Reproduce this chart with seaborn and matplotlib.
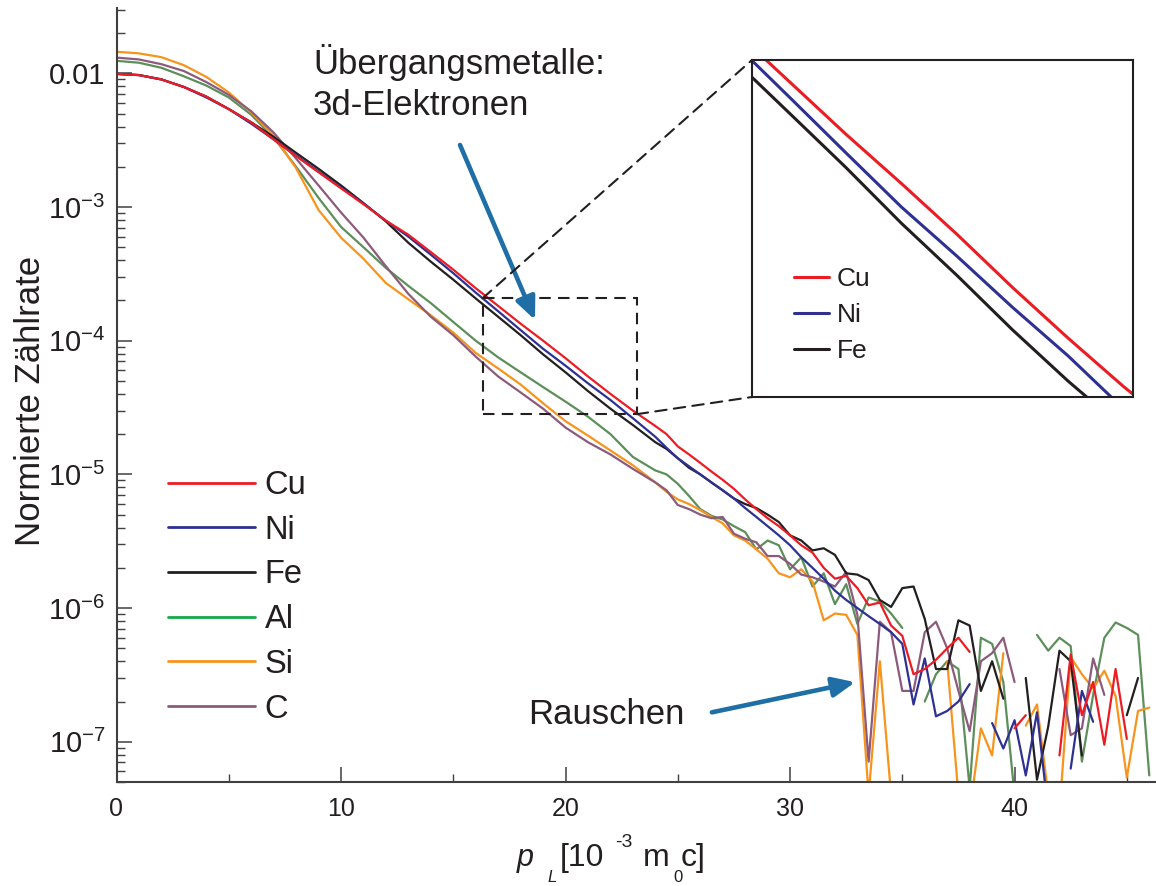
import numpy as np
import pandas as pd
import matplotlib
matplotlib.use("Agg")
import matplotlib.pyplot as plt
import seaborn as sns
from matplotlib.patches import Rectangle, ConnectionPatch
from matplotlib.lines import Line2D
from matplotlib.ticker import NullLocator

nan = np.nan

# ---------------- data ----------------
p_L = [0, 1, 2, 3, 4, 5, 6, 7, 8, 9, 10, 11, 12, 13, 14, 15, 16, 17, 18, 19, 20,
       21, 22, 23, 24, 24.5, 25, 25.5, 26, 26.5, 27, 27.5, 28, 28.5, 29, 29.5,
       30, 30.5, 31, 31.5, 32, 32.5, 33, 33.5, 34, 34.5, 35, 35.5, 36, 36.5,
       37, 37.5, 38, 38.5, 39, 39.5, 40, 40.5, 41, 41.5, 42, 42.5, 43, 43.5,
       44, 44.5, 45, 45.5, 46]

cu = [9.9e-3, 9.7e-3, 9.0e-3, 7.9e-3, 6.7e-3, 5.4e-3, 4.3e-3, 3.2e-3, 2.4e-3, 1.82e-3,
      1.38e-3, 1.05e-3, 7.9e-4, 6.2e-4, 4.6e-4, 3.4e-4, 2.47e-4, 1.82e-4, 1.34e-4, 1.0e-4,
      7.4e-5, 5.4e-5, 4.0e-5, 3.0e-5, 2.3e-5, 2.0e-5, 1.62e-5, 1.41e-5, 1.22e-5, 1.05e-5,
      9.1e-6, 7.8e-6, 6.5e-6, 5.5e-6, 4.7e-6, 4.1e-6, 3.5e-6, 2.95e-6, 2.6e-6, 2.0e-6,
      1.66e-6, 1.74e-6, 1.41e-6, 1.05e-6, 1.10e-6, 7.4e-7, 6.2e-7, 3.2e-7, 3.5e-7, 4.1e-7,
      5.0e-7, 6.0e-7, 4.7e-7, nan, nan, nan, 1.26e-7, 1.58e-7, nan, nan,
      7.9e-8, 4.5e-7, 1.58e-7, 2.8e-7, 9.5e-8, 3.5e-7, 1.05e-7, nan, nan]

ni = [9.9e-3, 9.7e-3, 9.0e-3, 7.9e-3, 6.6e-3, 5.4e-3, 4.2e-3, 3.2e-3, 2.43e-3, 1.84e-3,
      1.40e-3, 1.06e-3, 7.9e-4, 6.0e-4, 4.4e-4, 3.2e-4, 2.29e-4, 1.66e-4, 1.20e-4, 8.7e-5,
      6.5e-5, 4.8e-5, 3.6e-5, 2.63e-5, 1.91e-5, 1.58e-5, 1.32e-5, 1.15e-5, 1.0e-5, 8.7e-6,
      7.6e-6, 6.6e-6, 5.6e-6, 4.8e-6, 4.1e-6, 3.5e-6, 2.95e-6, 2.4e-6, 2.0e-6, 1.66e-6,
      1.35e-6, 1.15e-6, 1.0e-6, 8.7e-7, 7.6e-7, 6.6e-7, 5.4e-7, 1.9e-7, 4.2e-7, 1.55e-7,
      1.7e-7, 2.0e-7, 2.7e-7, nan, 1.38e-7, 8.9e-8, 1.45e-7, 5.6e-8, 1.66e-7, 3.0e-8,
      nan, 6.3e-8, 2.4e-7, 1.41e-7, nan, nan, nan, nan, nan]

fe = [9.9e-3, 9.7e-3, 9.0e-3, 7.9e-3, 6.7e-3, 5.4e-3, 4.3e-3, 3.35e-3, 2.54e-3, 1.93e-3,
      1.45e-3, 1.07e-3, 7.8e-4, 5.4e-4, 3.9e-4, 2.86e-4, 2.07e-4, 1.51e-4, 1.10e-4, 7.9e-5,
      5.8e-5, 4.2e-5, 3.1e-5, 2.34e-5, 1.74e-5, 1.55e-5, 1.32e-5, 1.12e-5, 1.0e-5, 8.7e-6,
      7.6e-6, 6.6e-6, 6.0e-6, 5.6e-6, 5.0e-6, 4.4e-6, 3.5e-6, 3.2e-6, 2.7e-6, 2.8e-6,
      2.5e-6, 1.82e-6, 1.78e-6, 1.62e-6, 1.15e-6, 1.02e-6, 1.41e-6, 1.45e-6, 8.3e-7, 3.5e-7,
      3.5e-7, 8.1e-7, 7.4e-7, 2.4e-7, 4.0e-7, 2.1e-7, nan, 3.0e-7, 5.2e-8, 1.3e-7,
      4.8e-7, 4.0e-7, 7.9e-8, nan, nan, nan, 1.58e-7, 3.0e-7, nan]

al = [1.24e-2, 1.20e-2, 1.10e-2, 9.5e-3, 8.1e-3, 6.6e-3, 4.9e-3, 3.3e-3, 2.0e-3, 1.17e-3,
      7.1e-4, 5.0e-4, 3.5e-4, 2.57e-4, 1.91e-4, 1.38e-4, 1.0e-4, 7.5e-5, 5.8e-5, 4.5e-5,
      3.5e-5, 2.7e-5, 2.0e-5, 1.35e-5, 1.07e-5, 1.0e-5, 8.5e-6, 6.9e-6, 5.5e-6, 4.9e-6,
      4.6e-6, 4.1e-6, 3.7e-6, 2.75e-6, 3.2e-6, 2.95e-6, 1.95e-6, 2.4e-6, 1.45e-6, 1.82e-6,
      1.07e-6, 1.51e-6, 7.6e-7, 1.2e-6, 1.12e-6, 9.1e-7, 7.1e-7, nan, 2.0e-7, 3.2e-7,
      4.0e-7, 3.5e-7, 4.5e-8, 6.0e-7, 5.4e-7, 2.8e-7, 4.0e-8, nan, 6.3e-7, 4.8e-7,
      6.0e-7, 5.2e-7, 7.1e-8, 2.24e-7, 6.0e-7, 7.8e-7, 7.1e-7, 6.3e-7, 5.6e-8]

si = [1.45e-2, 1.41e-2, 1.32e-2, 1.15e-2, 9.4e-3, 7.2e-3, 5.1e-3, 3.4e-3, 1.95e-3, 9.5e-4,
      5.9e-4, 4.1e-4, 2.7e-4, 2.04e-4, 1.55e-4, 1.15e-4, 8.1e-5, 6.2e-5, 4.7e-5, 3.4e-5,
      2.5e-5, 1.95e-5, 1.51e-5, 1.17e-5, 8.7e-6, 7.4e-6, 6.5e-6, 6.0e-6, 5.4e-6, 4.8e-6,
      4.3e-6, 3.5e-6, 3.2e-6, 2.75e-6, 2.34e-6, 1.82e-6, 1.7e-6, 1.95e-6, 1.58e-6, 8.1e-7,
      9.1e-7, 8.9e-7, 6.3e-7, 4.0e-8, 4.0e-7, 4.0e-8, nan, nan, nan, nan,
      4.0e-7, 4.0e-8, 3.0e-8, 1.26e-7, 7.9e-8, 4.6e-7, nan, 1.32e-7, 1.9e-7, 4.0e-8,
      3.0e-8, 4.3e-7, 3.2e-7, 2.5e-7, 3.4e-7, 2.2e-7, 5.4e-8, 1.7e-7, 1.8e-7]

c = [1.31e-2, 1.27e-2, 1.17e-2, 1.04e-2, 8.6e-3, 6.9e-3, 5.2e-3, 3.6e-3, 2.3e-3, 1.45e-3,
     9.1e-4, 5.9e-4, 3.6e-4, 2.24e-4, 1.51e-4, 1.10e-4, 7.6e-5, 5.4e-5, 4.1e-5, 3.1e-5,
     2.24e-5, 1.74e-5, 1.41e-5, 1.10e-5, 8.7e-6, 7.6e-6, 5.9e-6, 5.5e-6, 5.0e-6, 4.7e-6,
     4.8e-6, 3.6e-6, 3.3e-6, 3.1e-6, 2.45e-6, 2.45e-6, 2.14e-6, 1.78e-6, 1.7e-6, 1.58e-6,
     1.45e-6, 1.86e-6, 8.9e-7, 7.1e-8, 7.9e-7, 6.6e-7, 2.4e-7, 2.4e-7, 6.6e-7, 7.9e-7,
     5.0e-7, 2.4e-7, 1.2e-7, 4.0e-7, 4.6e-7, 6.0e-7, 2.8e-7, nan, nan, nan,
     3.5e-7, 1.12e-7, 1.26e-7, 4.2e-7, 2.24e-7, nan, nan, nan, nan]

elements = ["Cu", "Ni", "Fe", "Al", "Si", "C"]
series = {"Cu": cu, "Ni": ni, "Fe": fe, "Al": al, "Si": si, "C": c}
inset_elements = ["Cu", "Ni", "Fe"]

ytick_values = [1e-2, 1e-3, 1e-4, 1e-5, 1e-6, 1e-7]
ytick_labels = ["0.01", r"$10^{-3}$", r"$10^{-4}$", r"$10^{-5}$", r"$10^{-6}$", r"$10^{-7}$"]
xtick_values = [0, 10, 20, 30, 40]
xtick_labels = ["0", "10", "20", "30", "40"]
xtick_minor = [5, 15, 25, 35, 45]

# ---------------- styles ----------------
line_colors = {"Cu": "#ec1c24", "Ni": "#2e3192", "Fe": "#231f20",
               "Al": "#5d8f5a", "Si": "#f7941d", "C": "#8c5b7c"}
legend_colors = {"Cu": "#ec1c24", "Ni": "#2e3192", "Fe": "#231f20",
                 "Al": "#14a84a", "Si": "#f7941d", "C": "#8c5b7c"}
arrow_color = "#1f6fa6"
text_color = "#231f20"
spine_color = "#404040"

sns.set_theme(style="white")
plt.rcParams["font.family"] = ["Liberation Sans", "DejaVu Sans"]
plt.rcParams["mathtext.fontset"] = "custom"
plt.rcParams["mathtext.rm"] = "Liberation Sans"
plt.rcParams["mathtext.it"] = "Liberation Sans:italic"
plt.rcParams["mathtext.bf"] = "Liberation Sans:bold"
plt.rcParams["text.color"] = text_color

W, H = 1156, 886
fig = plt.figure(figsize=(W / 100, H / 100), dpi=100)


def fx(px):
    return px / W


def fy(py):
    return 1 - py / H


# long-form table, with a new segment after every gap
rows = []
for name in elements:
    seg = 0
    for x, v in zip(p_L, series[name]):
        if v is None or np.isnan(v):
            seg += 1
            continue
        rows.append((name, f"{name}_{seg}", x, v))
df = pd.DataFrame(rows, columns=["element", "segment", "p", "rate"])

# ---------------- main axes ----------------
ax = fig.add_axes([fx(116.5), fy(782), (W - 116.5) / W, (782 - 8) / H])
ax.set_yscale("log")
draw_order = ["Al", "Si", "C", "Fe", "Ni", "Cu"]
sns.lineplot(data=df, x="p", y="rate", hue="element", hue_order=draw_order,
             units="segment", estimator=None, palette=line_colors, legend=False,
             sort=False, linewidth=1.6, ax=ax)

ax.set_xlim(0, 46.3)
ax.set_ylim(5.0e-8, 3.08e-2)
ax.set_xticks(xtick_values)
ax.set_xticklabels(xtick_labels)
ax.set_xticks(xtick_minor, minor=True)
ax.set_yticks(ytick_values)
ax.set_yticklabels(ytick_labels)
yminor = [m * 10.0 ** e for e in range(-8, -1) for m in range(2, 10)]
yminor = [v for v in yminor if 5.0e-8 <= v <= 3.08e-2]
ax.set_yticks(yminor, minor=True)
ax.yaxis.set_minor_formatter(plt.NullFormatter())

ax.tick_params(axis="both", which="both", bottom=True, left=True, top=False, right=False)
ax.tick_params(axis="both", which="major", direction="in", length=11, width=1.1,
               color=spine_color, labelcolor=text_color)
ax.tick_params(axis="both", which="minor", direction="in", length=5.5, width=1.0,
               color=spine_color)
ax.tick_params(axis="x", which="major", labelsize=18, pad=11)
ax.tick_params(axis="y", which="major", labelsize=21, pad=8)
for s in ["top", "right"]:
    ax.spines[s].set_visible(False)
for s in ["left", "bottom"]:
    ax.spines[s].set_color(spine_color)
    ax.spines[s].set_linewidth(1.5)

ax.set_xlabel("")
ax.set_ylabel("Normierte Zählrate", fontsize=25, color=text_color)
ax.yaxis.set_label_coords(-0.067, 0.492)

# main legend
handles = [Line2D([], [], color=legend_colors[e], lw=2.0) for e in elements]
ax.legend(handles, elements, loc="upper left", bbox_to_anchor=(0.0495, 0.403),
          frameon=False, fontsize=23.5, handlelength=2.66, handletextpad=0.3,
          labelspacing=0.42, borderpad=0, borderaxespad=0)

# zoom box
bx0, bx1 = 16.31, 23.17
by0, by1 = 2.82e-5, 2.08e-4
dash = (0, (5.5, 3.5))
ax.add_patch(Rectangle((bx0, by0), bx1 - bx0, by1 - by0, fill=False,
                       linestyle=dash, lw=1.5, ec=text_color, zorder=5))

# ---------------- inset ----------------
axin = fig.add_axes([fx(752), fy(397), 381 / W, 337 / H])
axin.set_yscale("log")
sub = df[df["element"].isin(inset_elements)]
sns.lineplot(data=sub, x="p", y="rate", hue="element", hue_order=["Fe", "Ni", "Cu"],
             units="segment", estimator=None, palette=line_colors, legend=False,
             sort=False, linewidth=2.2, ax=axin)
axin.set_xlim(bx0, bx1)
axin.set_ylim(by0, by1)
axin.yaxis.set_minor_locator(NullLocator())
axin.set_xticks([])
axin.set_yticks([])
axin.set_xlabel("")
axin.set_ylabel("")
for s in axin.spines.values():
    s.set_visible(True)
    s.set_color(text_color)
    s.set_linewidth(1.5)
ih = [Line2D([], [], color=legend_colors[e], lw=2.2) for e in inset_elements]
axin.legend(ih, inset_elements, loc="upper left", bbox_to_anchor=(0.110, 0.385),
            frameon=False, fontsize=19, handlelength=1.33, handletextpad=0.3,
            labelspacing=0.45, borderpad=0, borderaxespad=0)

for (xa, ya), (xb, yb) in [((bx0, by1), (bx0, by1)), ((bx1, by0), (bx0, by0))]:
    con = ConnectionPatch(xyA=(xa, ya), coordsA=ax.transData,
                          xyB=(xb, yb), coordsB=axin.transData,
                          linestyle=dash, lw=1.5, color=text_color)
    fig.add_artist(con)

# ---------------- annotations ----------------
arrow_style = "-|>,head_length=0.45,head_width=0.2"
ax.annotate("", xy=(18.64, 1.43e-4), xytext=(15.30, 2.91e-3),
            arrowprops=dict(arrowstyle=arrow_style, mutation_scale=30, color=arrow_color,
                            lw=3.3, shrinkA=0, shrinkB=0), zorder=6)
ax.annotate("", xy=(32.90, 2.79e-7), xytext=(26.52, 1.66e-7),
            arrowprops=dict(arrowstyle=arrow_style, mutation_scale=30, color=arrow_color,
                            lw=3.3, shrinkA=0, shrinkB=0), zorder=6)

fig.text(fx(313), fy(44), "Übergangsmetalle:\n3d-Elektronen", fontsize=25,
         ha="left", va="top", linespacing=1.3, color=text_color)
fig.text(fx(528), fy(724), "Rauschen", fontsize=25, ha="left", va="baseline",
         color=text_color)

# x-axis label built from pieces
fig.text(fx(517), fy(866), "p", fontsize=22, style="italic", va="baseline")
fig.text(fx(547), fy(882), "L", fontsize=12, style="italic", va="baseline")
fig.text(fx(560), fy(866), "[10", fontsize=23, va="baseline")
fig.text(fx(615), fy(847), "-3", fontsize=14, va="baseline")
fig.text(fx(643), fy(866), "m", fontsize=23, va="baseline")
fig.text(fx(673), fy(882), "0", fontsize=12, va="baseline")
fig.text(fx(681), fy(866), "c]", fontsize=23, va="baseline")

fig.savefig("out.png", dpi=100)
